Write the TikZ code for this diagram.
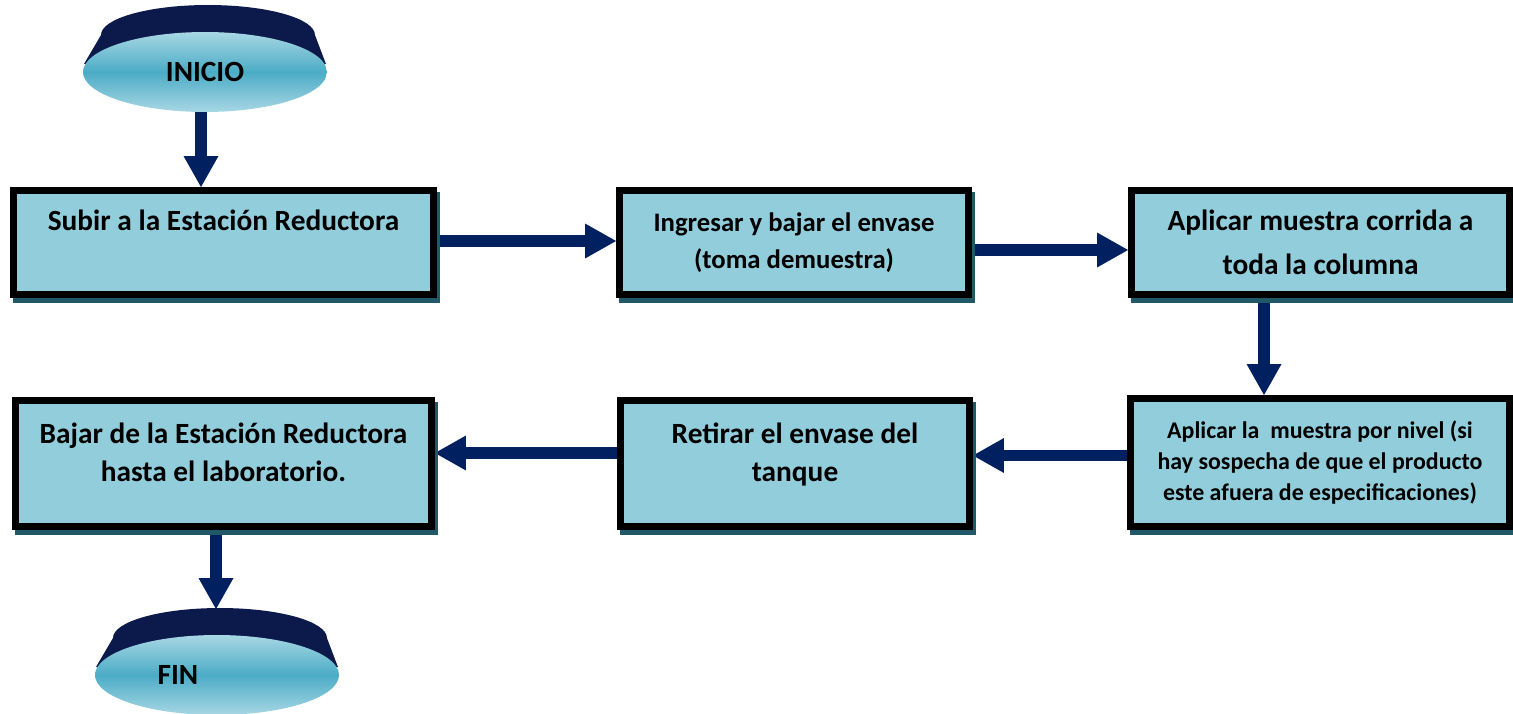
\documentclass[tikz,border=0pt]{standalone}
\usepackage{fontspec}
\setmainfont{Carlito}
\usetikzlibrary{arrows.meta,shadows,backgrounds,shapes.geometric}
\definecolor{aqua}{HTML}{92CDDC}
\definecolor{deepteal}{HTML}{215968}
\definecolor{navy}{HTML}{002060}
\definecolor{disctop}{HTML}{0B1A4A}
\definecolor{discmid}{HTML}{4BACC6}
\definecolor{discedge}{HTML}{A8D7E4}

\begin{document}
\begin{tikzpicture}[x=0.02cm,y=0.02cm,
  stepbox/.style={draw=black,line width=4pt,fill=aqua,align=center,inner sep=0pt,
    font=\bfseries\fontsize{16.7}{25}\selectfont,
    general shadow={fill=deepteal,draw=deepteal,line width=4pt,shadow xshift=0.06cm,shadow yshift=-0.1cm}},
  disc/.style={ellipse,inner sep=0pt,minimum width=4.88cm,minimum height=1.6cm,
    top color=discedge,bottom color=discedge,middle color=discmid,
    font=\bfseries\fontsize{16.7}{20}\selectfont},
  flow/.style={draw=navy,line width=6.8pt,-{Triangle[length=0.62cm,width=0.7cm,line width=0pt]}}]
  \useasboundingbox (0,0) rectangle (1513,-713);
  % inicio
  \fill[disctop] (205,-72) ++(-121,8) -- ++(17,29) arc[start angle=180,end angle=0,x radius=2.14cm,y radius=0.6cm] -- ++(11,-29) -- cycle;
  \node[disc] (inicio) at (205,-72) {INICIO};
  % first row
  \node[stepbox,minimum width=8.4cm,minimum height=2.08cm] (b1) at (223.5,-242.5) {Subir a la Estación Reductora\\\mbox{}};
  \node[stepbox,minimum width=6.98cm,minimum height=2.08cm,font=\bfseries\fontsize{15.2}{21}\selectfont] (b2) at (794,-242.5) {Ingresar y bajar el envase\\(toma demuestra)};
  \node[stepbox,minimum width=7.56cm,minimum height=2.08cm] (b3) at (1320.5,-242.5) {Aplicar muestra corrida a\\toda la columna};
  % second row
  \node[stepbox,minimum width=7.58cm,minimum height=2.56cm,font=\bfseries\fontsize{13.6}{17.6}\selectfont] (b4) at (1320,-462.5) {Aplicar la~ muestra por nivel (si\\hay sospecha de que el producto\\este afuera de especificaciones)};
  \node[stepbox,minimum width=6.98cm,minimum height=2.52cm,font=\bfseries\fontsize{16.7}{21.6}\selectfont] (b5) at (795,-463.5) {Retirar el envase del\\tanque\\[-9pt]\mbox{}};
  \node[stepbox,minimum width=8.32cm,minimum height=2.52cm,font=\bfseries\fontsize{16.7}{21.6}\selectfont] (b6) at (223.5,-463.5) {Bajar de la Estación Reductora\\hasta el laboratorio.\\[-9pt]\mbox{}};
  % fin
  \fill[disctop] (217,-675) ++(-121,8) -- ++(17,29) arc[start angle=180,end angle=0,x radius=2.14cm,y radius=0.6cm] -- ++(11,-29) -- cycle;
  \node[disc] (fin) at (217,-675) {};
  \node[font=\bfseries\fontsize{16.7}{20}\selectfont] (fintext) at (178,-675) {FIN};
  \coordinate (fintop) at (216,-609);
  % arrows
  \begin{scope}[on background layer]
   \draw[flow] ([xshift=-0.08cm]inicio.south) -- ([xshift=-0.08cm]inicio.south |- b1.north);
   \draw[flow] ([yshift=0.03cm]b1.east) -- ([yshift=0.03cm]b1.east -| b2.west);
   \draw[flow] ([yshift=-0.15cm]b2.east) -- ([yshift=-0.15cm]b2.east -| b3.west);
   \draw[flow] ([xshift=-1.13cm]b3.south) -- ([xshift=-1.13cm]b3.south |- b4.north);
   \draw[flow] ([yshift=0.14cm]b4.west) -- ([yshift=0.14cm]b4.west -| b5.east);
   \draw[flow] ([yshift=0.21cm]b5.west) -- ([yshift=0.21cm]b5.west -| b6.east);
   \draw[flow] (b6.south -| fintop) -- (fintop);
  \end{scope}
\end{tikzpicture}
\end{document}
